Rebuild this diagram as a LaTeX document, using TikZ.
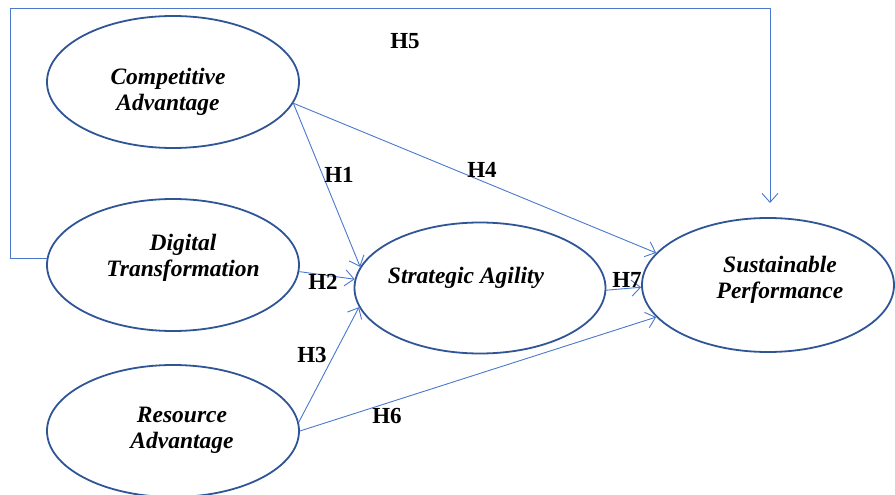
\documentclass[tikz,border=0pt]{standalone}
\usepackage{fontspec}
\setmainfont{Liberation Serif}
\usetikzlibrary{shapes.geometric,arrows.meta}
\definecolor{ellblue}{HTML}{2F5597}
\definecolor{lineblue}{HTML}{4A78CF}
\tikzset{
  construct/.style={ellipse, draw=ellblue, line width=1.8pt, inner sep=0pt,
    minimum width=252pt, minimum height=132pt},
  ctext/.style={align=center, inner sep=0pt,
    font=\fontsize{23.5}{26}\selectfont\bfseries\itshape},
  conn/.style={draw=lineblue, line width=0.9pt, -{Straight Barb[length=9pt,width=16pt,line width=0.9pt]}},
  plain/.style={draw=lineblue, line width=0.9pt},
  hyp/.style={font=\fontsize{23}{26}\selectfont\bfseries, inner sep=0pt}
}
\begin{document}
\begin{tikzpicture}[x=1pt,y=-1pt]
\useasboundingbox (0,0) rectangle (895,495);
\node[construct] (ca) at (173,82) {};
\node[construct] (dt) at (173,265) {};
\node[construct] (ra) at (173,431) {};
\node[construct, minimum width=251pt, minimum height=131pt] (sa) at (480,288) {};
\node[construct, minimum width=252pt, minimum height=134pt] (sp) at (768,285) {};

\node[ctext] (catext) at (168,92) {Competitive\\Advantage};
\node[ctext] (dttext) at (183,258) {Digital\\Transformation};
\node[ctext] (ratext) at (182,430) {Resource\\Advantage};
\node[ctext] (satext) at (466,278) {Strategic Agility};
\node[ctext] (sptext) at (780,280) {Sustainable\\Performance};

\coordinate (c1) at (10,258);
\coordinate (c2) at (770,8);
\coordinate (h5end) at (770,203);
\draw[plain] (dt.177) -- (dt.177 -| c1) |- (c2);
\draw[conn] (c2) -- (h5end);

\draw[conn] (ca.-10) -- (sa.170);
\draw[conn] (ca.-10) -- (sp.164);
\draw[conn] (dt.-3) -- (sa.176);
\draw[conn] (ra.4) -- (sa.-171);
\draw[conn] (ra.0) -- (sp.-164);
\draw[conn] (sa.-1) -- (sp.181);

\node[hyp] (h5) at (405,41) {H5};
\node[hyp] (h1) at (339,175) {H1};
\node[hyp] (h4) at (482,170) {H4};
\node[hyp] (h2) at (323,282) {H2};
\node[hyp] (h3) at (312,355) {H3};
\node[hyp] (h6) at (387,416) {H6};
\node[hyp] (h7) at (627,280) {H7};
\end{tikzpicture}
\end{document}
